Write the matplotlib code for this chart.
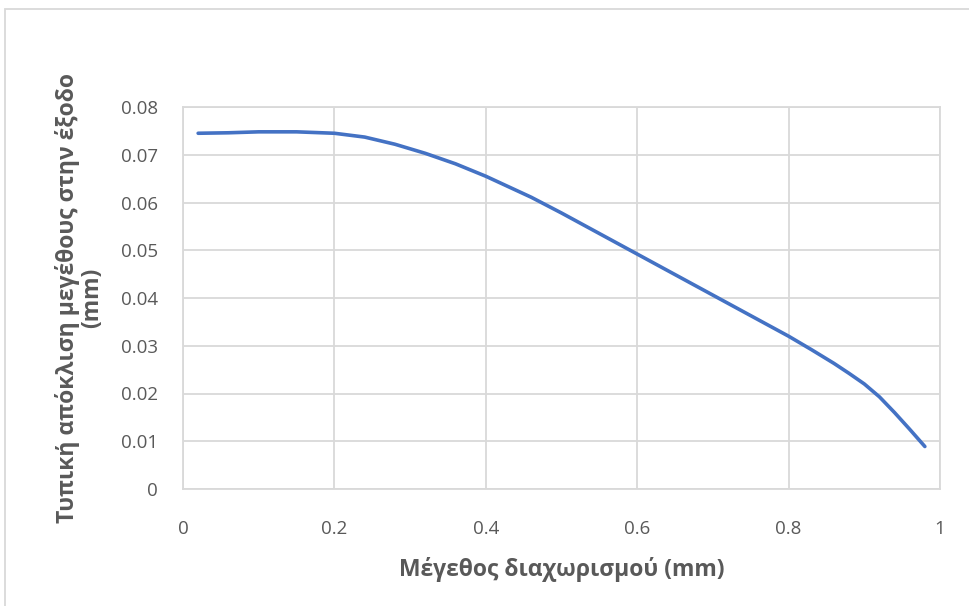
import matplotlib
matplotlib.use("Agg")
import matplotlib.pyplot as plt
from matplotlib.patches import Rectangle
from matplotlib.ticker import FuncFormatter

plt.rcParams['font.family'] = ['Open Sans', 'Noto Sans', 'DejaVu Sans']

# separation size (mm) vs standard deviation of output size (mm)
sep_size = [0.02, 0.06, 0.10, 0.15, 0.20, 0.24, 0.28, 0.32, 0.36, 0.40,
            0.43, 0.46, 0.50, 0.55, 0.60, 0.65, 0.70, 0.75, 0.80, 0.83,
            0.86, 0.88, 0.90, 0.92, 0.94, 0.96, 0.98]
std_dev = [0.0745, 0.0746, 0.0748, 0.0748, 0.0745, 0.0737, 0.0722, 0.0703,
           0.0681, 0.0655, 0.0633, 0.0611, 0.0578, 0.0535, 0.0492, 0.0449,
           0.0406, 0.0363, 0.0320, 0.0292, 0.0263, 0.0242, 0.0220, 0.0193,
           0.0160, 0.0125, 0.0089]

x_ticks = [0, 0.2, 0.4, 0.6, 0.8, 1]
y_ticks = [0, 0.01, 0.02, 0.03, 0.04, 0.05, 0.06, 0.07, 0.08]

grid_col = '#d9d9d9'
text_col = '#595959'

fig = plt.figure(figsize=(9.69, 6.06), dpi=100)
ax = fig.add_axes([183 / 969, 1 - 489 / 606, (940 - 183) / 969, (489 - 107) / 606])

ax.plot(sep_size, std_dev, color='#4472c4', lw=2.6, solid_capstyle='round',
        solid_joinstyle='round')

ax.set_xlim(0, 1)
ax.set_ylim(0, 0.08)
ax.set_xticks(x_ticks)
ax.set_yticks(y_ticks)
fmt = FuncFormatter(lambda v, _: '%g' % round(v, 4))
ax.xaxis.set_major_formatter(fmt)
ax.yaxis.set_major_formatter(fmt)
ax.tick_params(length=0, labelsize=13.5, labelcolor=text_col)
ax.tick_params(axis='x', pad=22)
ax.tick_params(axis='y', pad=18)

ax.grid(True, color=grid_col, lw=1.3)
ax.set_axisbelow(True)
for s in ax.spines.values():
    s.set_color(grid_col)
    s.set_linewidth(1.3)

ax.set_xlabel('Μέγεθος διαχωρισμού (mm)', fontsize=16.5, fontweight='bold',
              color=text_col, labelpad=14)
ax.set_ylabel('Τυπική απόκλιση μεγέθους στην έξοδο\n(mm)', fontsize=16.5,
              fontweight='bold', color=text_col, labelpad=12, linespacing=1.0)

# chart area border
fig.add_artist(Rectangle((5 / 969, -0.1), 2, 1 - 9 / 606 + 0.1,
                         transform=fig.transFigure, fill=False,
                         ec=grid_col, lw=1.3))

fig.savefig('out.png', dpi=100, facecolor='white')
